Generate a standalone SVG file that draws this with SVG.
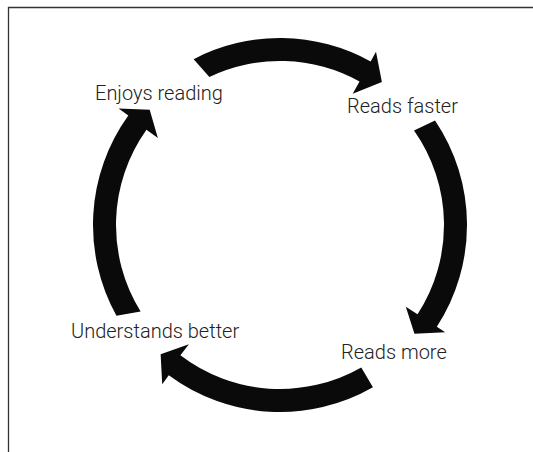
<svg xmlns="http://www.w3.org/2000/svg" width="533" height="452" viewBox="0 0 533 452">
<style>
.frame{fill:none;stroke:#333;stroke-width:1.3}
.arrow{fill:#0a0a0a;stroke:none}
.label{font-family:Roboto,"Liberation Sans",Arial,sans-serif;font-weight:300;font-size:20px;fill:#222}
</style>
<rect width="533" height="452" fill="#fff"/>
<path class="frame" d="M8.5,452 V7.5 H533"/>
<g id="connectors">
<path id="arrow-top" class="arrow" d="M193.65,59.13 A187,187 0 0 1 370.66,61.45 L375.99,51.83 L381.91,82.12 L352.72,93.81 L359.51,81.56 A164,164 0 0 0 209.40,76.98 Z"/>
<path id="arrow-right" class="arrow" d="M435.03,120.43 A187,187 0 0 1 436.83,326.85 L445.22,332.29 L414.45,333.87 L405.80,306.70 L417.54,314.32 A164,164 0 0 0 414.01,130.47 Z"/>
<path id="arrow-bottom" class="arrow" d="M372.93,387.27 A187,187 0 0 1 168.77,375.32 L162.23,384.16 L160.64,354.34 L188.89,344.16 L180.39,355.28 A164,164 0 0 0 361.26,367.46 Z"/>
<path id="arrow-left" class="arrow" d="M116.45,315.66 A187,187 0 0 1 128.33,115.61 L118.60,108.59 L149.68,109.70 L157.88,137.89 L146.48,129.77 A164,164 0 0 0 140.62,311.42 Z"/>
</g>
<g id="node-enjoys"><text class="label" x="95" y="99.5">Enjoys reading</text></g>
<g id="node-faster"><text class="label" x="347" y="112.5">Reads faster</text></g>
<g id="node-more"><text class="label" x="341" y="359">Reads more</text></g>
<g id="node-understands"><text class="label" x="71" y="338">Understands better</text></g>
</svg>
